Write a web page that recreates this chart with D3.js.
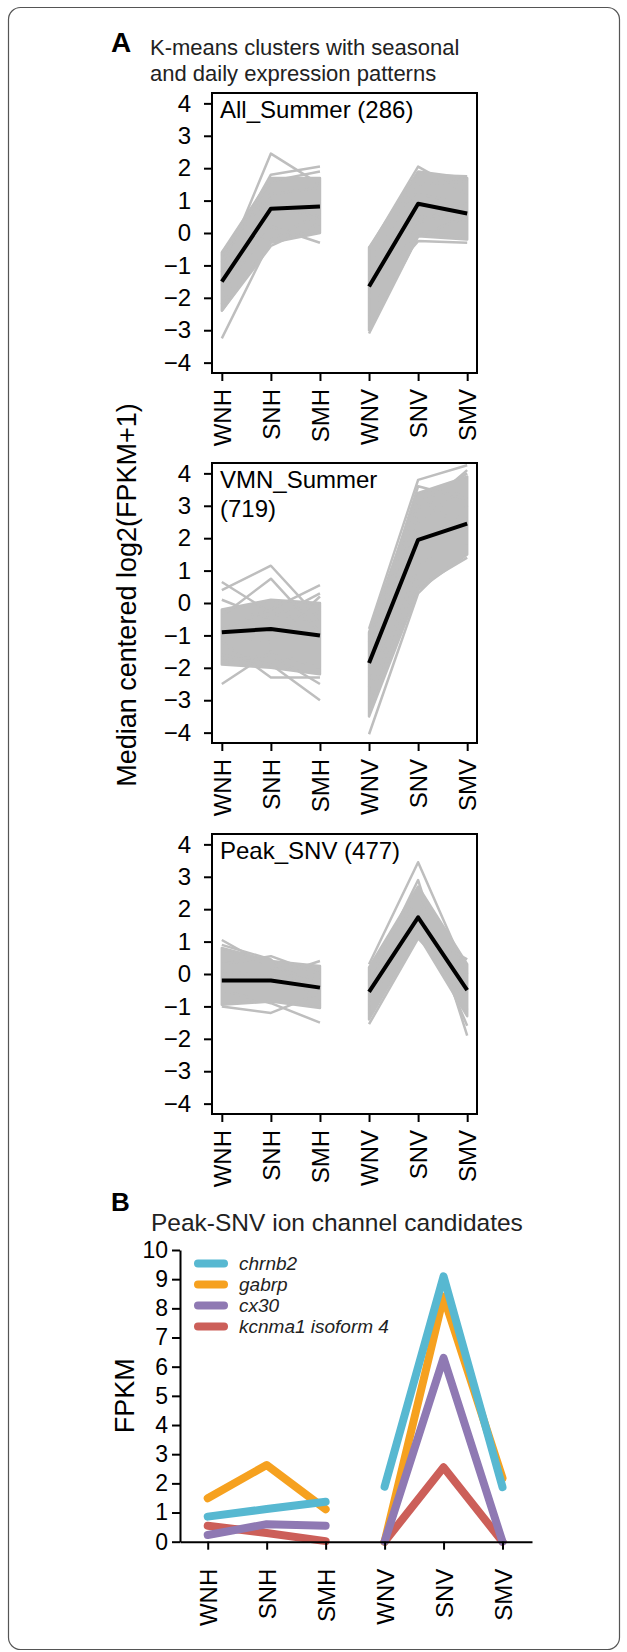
<!DOCTYPE html>
<html>
<head>
<meta charset="utf-8">
<script src="https://cdn.jsdelivr.net/npm/d3@7"></script>
<style>
body { margin: 0; background: #fff; }
svg { display: block; font-family: "Liberation Sans", Arial, Helvetica, sans-serif; }
</style>
</head>
<body>
<svg width="627" height="1652"></svg>
<script>
// sample order on the x axis
var stages = ["WNH", "SNH", "SMH", "WNV", "SNV", "SMV"];
var yTicksA = [-4, -3, -2, -1, 0, 1, 2, 3, 4];
var yTicksB = [0, 1, 2, 3, 4, 5, 6, 7, 8, 9, 10];

// panel A, cluster 1
var allSummerTitle = ["All_Summer (286)"];
var allSummerMedian = [-1.5, 0.75, 0.82, -1.65, 0.9, 0.6];
var allSummerLow = [-2.4, -0.3, 0.0, -3.0, -0.1, -0.2];
var allSummerHigh = [-0.6, 1.7, 1.7, -0.45, 1.9, 1.7];
var allSummerGenes = [
    [-3.25, -0.2, 0.6, -2.0, 0.5, 0.4],
    [-1.2, 2.45, 1.5, -0.5, 2.05, 1.2],
    [-0.9, 1.8, 2.05, -1.0, 1.8, 1.75],
    [-0.7, 1.6, 1.9, -1.3, 1.5, 1.6],
    [-2.4, -0.4, 0.3, -3.1, -0.1, 0.5],
    [-1.8, 0.2, -0.3, -2.0, -0.25, -0.3],
    [-0.6, 1.2, 1.4, -0.45, 1.2, 0.9],
    [-2.2, 1.0, 0.4, -2.6, 0.3, 1.0]
];

// panel A, cluster 2
var vmnSummerTitle = ["VMN_Summer", "(719)"];
var vmnSummerMedian = [-0.9, -0.8, -1.0, -1.85, 1.95, 2.45];
var vmnSummerLow = [-1.9, -2.0, -2.2, -3.5, 0.4, 1.5];
var vmnSummerHigh = [-0.2, 0.1, 0.0, -0.9, 3.4, 3.9];
var vmnSummerGenes = [
    [0.65, -0.3, -0.6, -0.8, 3.8, 4.25],
    [0.4, 1.15, -0.5, -1.2, 3.6, 3.2],
    [-0.4, 0.75, -0.9, -2.2, 0.5, 1.4],
    [-2.5, -1.5, -2.0, -4.05, 0.3, 1.8],
    [-1.2, -2.3, -2.3, -1.5, 3.0, 4.0],
    [-1.6, -1.9, -3.0, -3.0, 1.2, 2.6],
    [-0.8, -0.2, 0.55, -2.6, 2.5, 3.6],
    [-1.0, -1.2, 0.2, -1.0, 3.3, 2.2],
    [-1.8, -1.6, -2.5, -3.3, 0.9, 3.0],
    [0.1, -0.5, 0.3, -2.0, 2.8, 4.1]
];

// panel A, cluster 3
var peakSnvTitle = ["Peak_SNV (477)"];
var peakSnvMedian = [-0.2, -0.2, -0.42, -0.55, 1.75, -0.5];
var peakSnvLow = [-0.95, -0.85, -1.05, -1.4, 1.2, -1.3];
var peakSnvHigh = [0.8, 0.4, 0.25, 0.2, 2.7, 0.3];
var peakSnvGenes = [
    [1.05, 0.2, -0.2, 0.3, 3.45, 0.0],
    [-1.0, -1.2, -0.6, -1.55, 1.1, -0.5],
    [0.3, 0.55, 0.0, -0.2, 2.9, -1.9],
    [-0.5, -0.9, -1.5, -0.8, 1.3, 0.45],
    [0.1, -0.1, 0.4, -1.0, 2.0, -1.6],
    [0.9, 0.45, -0.9, -0.3, 2.4, -1.1]
];

// panel B, FPKM
var geneNames = ["chrnb2", "gabrp", "cx30", "kcnma1 isoform 4"];
var geneColors = ["#57b8d1", "#f6a11f", "#8f79b3", "#cc5f59"];
var chrnb2 = [0.86, 1.12, 1.37, 1.89, 9.1, 1.87];
var gabrp = [1.49, 2.63, 1.11, 0, 8.4, 2.18];
var cx30 = [0.23, 0.6, 0.55, 0, 6.3, 0];
var kcnma1 = [0.55, 0.3, 0.02, 0, 2.55, 0];

var svg = d3.select("svg");
var groups = [[0, 1, 2], [3, 4, 5]];

function minus(d) {
    return d < 0 ? "\u2212" + Math.abs(d) : "" + d;
}

svg.append("rect")
    .attr("x", 8.5).attr("y", 7.5)
    .attr("width", 611).attr("height", 1642)
    .attr("rx", 12)
    .attr("fill", "none")
    .attr("stroke", "#555")
    .attr("stroke-width", 1.2);

// ---- panel A
svg.append("text").attr("x", 111).attr("y", 52)
    .style("font-weight", "bold").style("font-size", "28px").text("A");
svg.append("text").attr("x", 150).attr("y", 55)
    .style("font-size", "22px").attr("fill", "#222").text("K-means clusters with seasonal");
svg.append("text").attr("x", 150).attr("y", 81)
    .style("font-size", "22px").attr("fill", "#222").text("and daily expression patterns");

svg.append("text")
    .attr("transform", "translate(136,595) rotate(-90)")
    .style("text-anchor", "middle")
    .style("font-size", "27px")
    .text("Median centered log2(FPKM+1)");

var clusters = [
    {title: allSummerTitle, median: allSummerMedian, low: allSummerLow, high: allSummerHigh, genes: allSummerGenes},
    {title: vmnSummerTitle, median: vmnSummerMedian, low: vmnSummerLow, high: vmnSummerHigh, genes: vmnSummerGenes},
    {title: peakSnvTitle, median: peakSnvMedian, low: peakSnvLow, high: peakSnvHigh, genes: peakSnvGenes}
];
var panelTops = [93, 463, 834];
var panelH = 280;

clusters.forEach(function(c, k) {
    var top = panelTops[k];
    var x = d3.scaleLinear().domain([0.8, 6.2]).range([212, 477]);
    var y = d3.scaleLinear().domain([-4.32, 4.32]).range([top + panelH, top]);
    var g = svg.append("g");

    var band = d3.area()
        .x(function(i) { return x(i + 1); })
        .y0(function(i) { return y(c.low[i]); })
        .y1(function(i) { return y(c.high[i]); });
    var line = d3.line()
        .x(function(i) { return x(i + 1); });

    groups.forEach(function(grp) {
        g.append("path")
            .attr("d", band(grp))
            .attr("fill", "#bebebe")
            .attr("stroke", "#bebebe")
            .attr("stroke-width", 2.5)
            .attr("stroke-linejoin", "round");
        c.genes.forEach(function(vals) {
            g.append("path")
                .attr("d", line.y(function(i) { return y(vals[i]); })(grp))
                .attr("fill", "none")
                .attr("stroke", "#bebebe")
                .attr("stroke-width", 2.5)
                .attr("stroke-linejoin", "round");
        });
    });
    groups.forEach(function(grp) {
        g.append("path")
            .attr("d", line.y(function(i) { return y(c.median[i]); })(grp))
            .attr("fill", "none")
            .attr("stroke", "#000")
            .attr("stroke-width", 4)
            .attr("stroke-linejoin", "round");
    });

    g.append("rect")
        .attr("x", 212).attr("y", top)
        .attr("width", 265).attr("height", panelH)
        .attr("fill", "none").attr("stroke", "#000").attr("stroke-width", 2);

    c.title.forEach(function(t, j) {
        g.append("text")
            .attr("x", 220).attr("y", top + 25 + j * 29)
            .style("font-size", "24px")
            .text(t);
    });

    var ya = g.append("g").attr("transform", "translate(212,0)")
        .call(d3.axisLeft(y).tickValues(yTicksA).tickSize(8).tickPadding(13).tickFormat(minus));
    var xa = g.append("g").attr("transform", "translate(0," + (top + panelH) + ")")
        .call(d3.axisBottom(x).tickValues([1, 2, 3, 4, 5, 6]).tickSize(8)
            .tickFormat(function(d) { return stages[d - 1]; }));
    [ya, xa].forEach(function(a) {
        a.select(".domain").remove();
        a.selectAll("line").attr("stroke", "#000").attr("stroke-width", 2);
        a.selectAll("text").attr("fill", "#000").style("font-size", "24px")
            .style("font-family", "'Liberation Sans', Arial, sans-serif");
    });
    xa.selectAll("text")
        .attr("transform", "rotate(-90)")
        .attr("x", -16).attr("y", 0).attr("dy", "0.36em")
        .style("text-anchor", "end");
});

// ---- panel B
svg.append("text").attr("x", 111).attr("y", 1211)
    .style("font-weight", "bold").style("font-size", "26px").text("B");
svg.append("text").attr("x", 151).attr("y", 1231)
    .style("font-size", "24.5px").attr("fill", "#222").text("Peak-SNV ion channel candidates");

var xb = d3.scaleLinear().domain([0.53, 6.5]).range([180, 532]);
var yb = d3.scaleLinear().domain([0, 10]).range([1541.7, 1250]);

svg.append("text")
    .attr("transform", "translate(134," + yb(5) + ") rotate(-90)")
    .style("text-anchor", "middle")
    .style("font-size", "27px")
    .text("FPKM");

var series = [kcnma1, gabrp, cx30, chrnb2];
var seriesColor = [geneColors[3], geneColors[1], geneColors[2], geneColors[0]];
var lineB = d3.line().x(function(i) { return xb(i + 1); });

series.forEach(function(vals, s) {
    groups.forEach(function(grp) {
        svg.append("path")
            .attr("d", lineB.y(function(i) { return yb(vals[i]); })(grp))
            .attr("fill", "none")
            .attr("stroke", seriesColor[s])
            .attr("stroke-width", 8)
            .attr("stroke-linecap", "round")
            .attr("stroke-linejoin", "round");
    });
});

var yab = svg.append("g").attr("transform", "translate(180,0)")
    .call(d3.axisLeft(yb).tickValues(yTicksB).tickSize(8).tickSizeOuter(0).tickPadding(4));
var xab = svg.append("g").attr("transform", "translate(0," + yb(0) + ")")
    .call(d3.axisBottom(xb).tickValues([1, 2, 3, 4, 5, 6]).tickSize(8).tickSizeOuter(0)
        .tickFormat(function(d) { return stages[d - 1]; }));
[yab, xab].forEach(function(a) {
    a.select(".domain").attr("stroke", "#000").attr("stroke-width", 2);
    a.selectAll("line").attr("stroke", "#000").attr("stroke-width", 2);
    a.selectAll("text").attr("fill", "#000").style("font-size", "23px")
        .style("font-family", "'Liberation Sans', Arial, sans-serif");
});
xab.selectAll("text")
    .style("font-size", "24px")
    .attr("transform", "rotate(-90)")
    .attr("x", -27).attr("y", 0).attr("dy", "0.36em")
    .style("text-anchor", "end");

// legend
var legend = svg.append("g").selectAll("g")
    .data(geneNames)
    .enter().append("g")
    .attr("transform", function(d, i) { return "translate(0," + (1263.5 + i * 21) + ")"; });
legend.append("line")
    .attr("x1", 198).attr("x2", 224)
    .attr("stroke", function(d, i) { return geneColors[i]; })
    .attr("stroke-width", 8)
    .attr("stroke-linecap", "round");
legend.append("text")
    .attr("x", 239).attr("y", 6)
    .style("font-size", "19px")
    .style("font-style", "italic")
    .attr("fill", "#222")
    .text(function(d) { return d; });
</script>
</body>
</html>
